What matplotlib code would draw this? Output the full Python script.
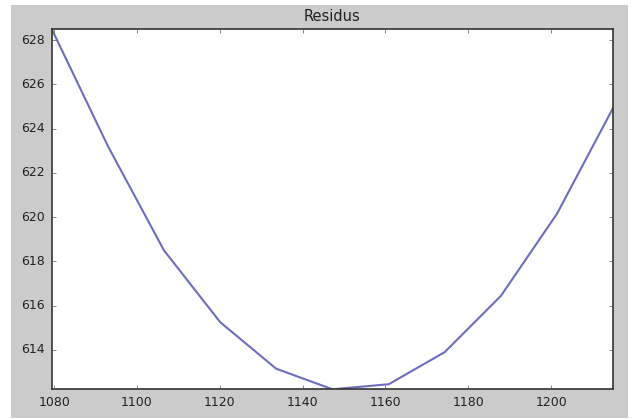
import matplotlib
matplotlib.use("Agg")
import matplotlib.pyplot as plt
from matplotlib.patches import Rectangle

title = "Residus"
x_values = [1079.4, 1093.0, 1106.5, 1120.1, 1133.6, 1147.2, 1160.8, 1174.3, 1187.9, 1201.4, 1215.0]
residus = [628.5, 623.2, 618.5, 615.25, 613.15, 612.22, 612.45, 613.9, 616.45, 620.15, 624.95]
x_ticks = [1080, 1100, 1120, 1140, 1160, 1180, 1200]
y_ticks = [614, 616, 618, 620, 622, 624, 626, 628]

plt.style.use("classic")
plt.rcParams["font.family"] = ["DejaVu Sans"]

fig = plt.figure(figsize=(6.35, 4.19), dpi=100, facecolor="white")
fig.patches.append(Rectangle((11 / 635, 1 / 419), 617 / 635, 413 / 419,
                             transform=fig.transFigure, facecolor="#cbcbcb",
                             edgecolor="none", zorder=-10))
ax = fig.add_axes([0.0814, 0.0709, 0.8844, 0.8599])
ax.set_facecolor("white")
ax.plot(x_values, residus, color="#6d6dbf", linewidth=1.5)
ax.set_xlim(min(x_values), max(x_values))
ax.set_ylim(min(residus), max(residus))
ax.set_xticks(x_ticks)
ax.set_yticks(y_ticks)
ax.tick_params(labelsize=9, direction="in", top=True, right=True, pad=5,
               length=3, color="#555555", labelcolor="#222222")
for s in ax.spines.values():
    s.set_color("#333333")
    s.set_linewidth(1.2)
ax.set_title(title, fontsize=10.5, color="#222222", pad=6)

fig.savefig("out.png", dpi=100, facecolor=fig.get_facecolor())
